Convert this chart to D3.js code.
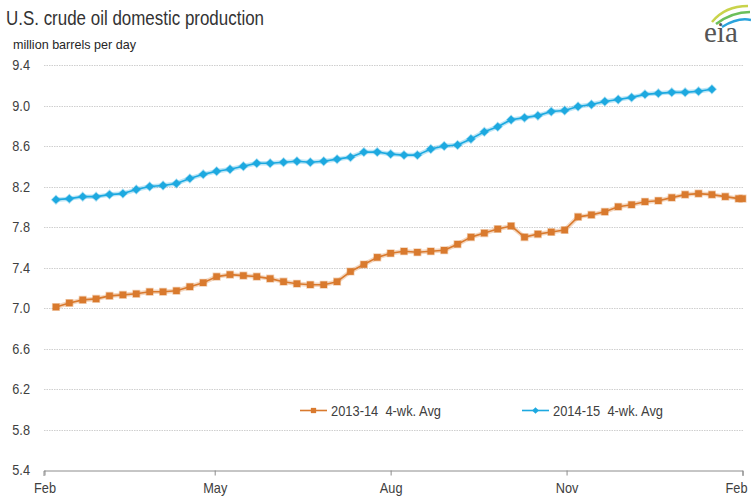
<!DOCTYPE html>
<html><head><meta charset="utf-8">
<script src="https://cdn.jsdelivr.net/npm/d3@7"></script>
<style>body{margin:0;background:#fff;overflow:hidden}</style>
</head><body>
<svg id="chart" width="751" height="502"></svg>
<script>
const weekDates = ["2013-02-07","2013-02-14","2013-02-21","2013-02-28","2013-03-07","2013-03-14","2013-03-21","2013-03-28","2013-04-04","2013-04-11","2013-04-18","2013-04-25","2013-05-02","2013-05-09","2013-05-16","2013-05-23","2013-05-30","2013-06-06","2013-06-13","2013-06-20","2013-06-27","2013-07-04","2013-07-11","2013-07-18","2013-07-25","2013-08-01","2013-08-08","2013-08-15","2013-08-22","2013-08-29","2013-09-05","2013-09-12","2013-09-19","2013-09-26","2013-10-03","2013-10-10","2013-10-17","2013-10-24","2013-10-31","2013-11-07","2013-11-14","2013-11-21","2013-11-28","2013-12-05","2013-12-12","2013-12-19","2013-12-26","2014-01-02","2014-01-09","2014-01-16","2014-01-23","2014-01-30","2014-02-01"];
const series1Label = "2013-14  4-wk. Avg";
const series1Values = [7.01,7.05,7.08,7.09,7.12,7.13,7.14,7.16,7.16,7.17,7.21,7.25,7.31,7.33,7.32,7.31,7.29,7.26,7.24,7.23,7.23,7.26,7.36,7.43,7.50,7.54,7.56,7.55,7.56,7.57,7.63,7.70,7.74,7.78,7.81,7.70,7.73,7.75,7.77,7.90,7.92,7.95,8.00,8.02,8.05,8.06,8.09,8.12,8.13,8.12,8.10,8.08,8.08];
const series2Label = "2014-15  4-wk. Avg";
const series2Values = [8.07,8.08,8.10,8.10,8.12,8.13,8.17,8.20,8.21,8.23,8.28,8.32,8.35,8.37,8.40,8.43,8.43,8.44,8.45,8.44,8.45,8.47,8.49,8.54,8.54,8.52,8.51,8.51,8.57,8.60,8.61,8.67,8.74,8.79,8.86,8.88,8.90,8.94,8.95,8.99,9.01,9.04,9.06,9.08,9.11,9.12,9.13,9.13,9.14,9.16];
const yTicks = [5.4,5.8,6.2,6.6,7.0,7.4,7.8,8.2,8.6,9.0,9.4];
const monthTickDates = ["2013-02-01","2013-05-01","2013-08-01","2013-11-01","2014-02-01"];
const monthLabels = ["Feb","May","Aug","Nov","Feb"];
const titleText = "U.S. crude oil domestic production";
const unitText = "million barrels per day";

const parse = d3.timeParse("%Y-%m-%d");
const dates = weekDates.map(parse);
const svg = d3.select("#chart");
const FONT = "'Liberation Sans', Arial, sans-serif";
const TXT = "#404040";

const x = d3.scaleTime().domain([parse(monthTickDates[0]), parse(monthTickDates[4])]).range([44.5, 742.5]);
const y = d3.scaleLinear().domain([5.4, 9.4]).range([470, 65]);

function narrow(sel, factor) {
  sel.each(function() {
    const w = this.getComputedTextLength();
    d3.select(this).attr("textLength", w * factor).attr("lengthAdjust", "spacingAndGlyphs");
  });
}

// gridlines
svg.append("g").selectAll("line").data(yTicks.slice(1)).join("line")
  .attr("x1", 44).attr("x2", 743)
  .attr("y1", d => Math.round(y(d)) + 0.5).attr("y2", d => Math.round(y(d)) + 0.5)
  .attr("stroke", "#cfcfcf").attr("stroke-width", 1).attr("stroke-dasharray", "1.5,1");

// y labels
const yl = svg.append("g").selectAll("text").data(yTicks).join("text")
  .attr("x", 30).attr("y", d => y(d)).attr("dy", "0.36em")
  .attr("text-anchor", "end").attr("font-family", FONT).attr("font-size", 15)
  .attr("fill", TXT).text(d => d.toFixed(1));
narrow(yl, 0.85);

// x axis
const xAxis = d3.axisBottom(x).tickValues(monthTickDates.map(parse)).tickSize(5)
  .tickFormat((d, i) => monthLabels[i]);
const gx = svg.append("g").attr("transform", "translate(0,470.5)").call(xAxis);
gx.select(".domain").attr("stroke", "#8c8c8c").attr("d", "M44,5.5V0.5H743V5.5");
gx.selectAll(".tick line").attr("stroke", "#8c8c8c");
gx.selectAll(".tick text").attr("font-family", FONT).attr("font-size", 15)
  .attr("fill", TXT).attr("y", 12).attr("dy", "0.71em");
narrow(gx.selectAll(".tick text"), 0.85);
// keep the last label inside the window (it sits at the right edge)
gx.selectAll(".tick text").filter((d, i) => i === monthLabels.length - 1)
  .each(function() {
    const tl = +this.getAttribute("textLength");
    d3.select(this).attr("text-anchor", "start")
      .attr("x", 747 - tl - x(parse(monthTickDates[4])));
  });

// series
function drawSeries(values, color, marker) {
  const pts = values.map((v, i) => [dates[i], v]);
  const line = d3.line().x(d => x(d[0])).y(d => y(d[1]));
  const g = svg.append("g");
  g.append("path").datum(pts).attr("d", line).attr("fill", "none")
    .attr("stroke", color).attr("stroke-opacity", 0.3).attr("stroke-width", 4.5).attr("stroke-linejoin", "round");
  g.append("path").datum(pts).attr("d", line).attr("fill", "none")
    .attr("stroke", color).attr("stroke-width", 1.6).attr("stroke-linejoin", "round");
  g.selectAll("path.m").data(pts).join("path").attr("class", "m")
    .attr("transform", d => `translate(${x(d[0])},${y(d[1])})`)
    .attr("d", marker).attr("fill", color)
    .attr("stroke", color).attr("stroke-opacity", 0.35).attr("stroke-width", 1.5);
}
const squareMarker = "M-3.3,-3.3H3.3V3.3H-3.3Z";
const diamondMarker = "M0,-4.2L4.2,0L0,4.2L-4.2,0Z";
const orange = "#D97A2E";
const blue = "#1DA9E0";
drawSeries(series1Values, orange, squareMarker);
drawSeries(series2Values, blue, diamondMarker);

// legend
function legendItem(x0, color, marker, label) {
  const g = svg.append("g").attr("transform", `translate(${x0},410.5)`);
  g.append("line").attr("x1", 0).attr("x2", 27).attr("stroke", color).attr("stroke-width", 1.6);
  g.append("path").attr("d", marker).attr("fill", color).attr("transform", "translate(13.5,0) scale(0.8)");
  const t = g.append("text").attr("x", 31).attr("dy", "0.36em").attr("font-family", FONT)
    .attr("font-size", 15).attr("fill", TXT).attr("xml:space", "preserve").style("white-space", "pre").text(label);
  t.attr("textLength", 110).attr("lengthAdjust", "spacingAndGlyphs");
}
legendItem(300, orange, squareMarker, series1Label);
legendItem(522, blue, diamondMarker, series2Label);

// title & unit
svg.append("text").attr("x", 6).attr("y", 25).attr("font-family", FONT).attr("font-size", 20)
  .attr("fill", "#333").text(titleText).attr("textLength", 258).attr("lengthAdjust", "spacingAndGlyphs");
svg.append("text").attr("x", 13).attr("y", 49).attr("font-family", FONT).attr("font-size", 13)
  .attr("fill", "#262626").text(unitText).attr("textLength", 123).attr("lengthAdjust", "spacingAndGlyphs");

// eia logo
const logo = svg.append("g");
logo.append("path").attr("d", "M712,22 Q725,6 748,6").attr("fill", "none").attr("stroke", "#c9d34a").attr("stroke-width", 2.5);
logo.append("path").attr("d", "M716,24 Q732,12 750,12").attr("fill", "none").attr("stroke", "#6cbf5a").attr("stroke-width", 2.5);
logo.append("path").attr("d", "M722,27 Q738,17 751,20").attr("fill", "none").attr("stroke", "#2aa3dc").attr("stroke-width", 2.5);
logo.append("text").attr("x", 704).attr("y", 42).attr("font-family", "'Liberation Serif', 'DejaVu Serif', serif")
  .attr("font-size", 29).attr("fill", "#555").text("eia");
</script>
</body></html>
